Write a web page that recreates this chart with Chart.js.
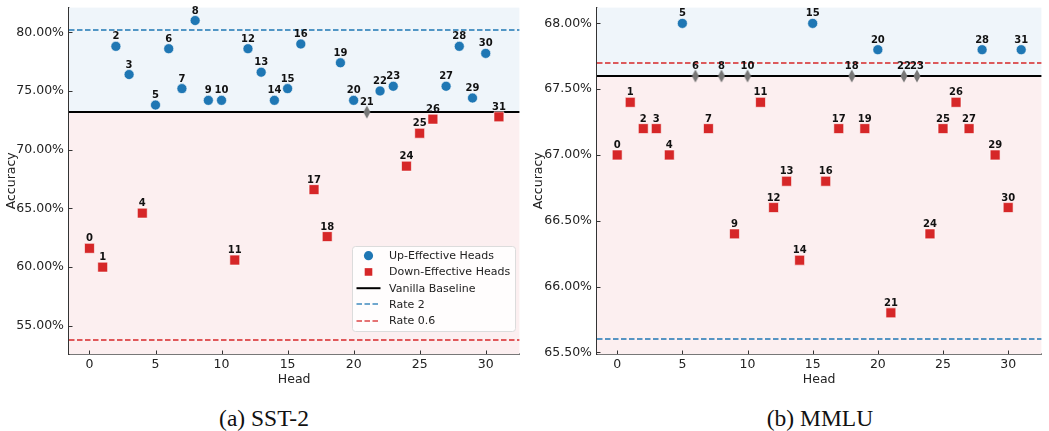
<!DOCTYPE html>
<html>
<head>
<meta charset="utf-8">
<script src="https://cdn.jsdelivr.net/npm/chart.js@4.4.0/dist/chart.umd.min.js"></script>
<style>
  body { margin: 0; background: #fff; width: 1049px; height: 431px; position: relative; overflow: hidden; }
  canvas { position: absolute; top: 0; }
  #chartA { left: 0; }
  #chartB { left: 527px; }
  .cap { position: absolute; top: 405px; font-family: "Liberation Serif", serif; font-size: 23.5px; color: #111;
         transform: translateX(-50%); white-space: nowrap; }
</style>
</head>
<body>
<canvas id="chartA" width="527" height="395"></canvas>
<canvas id="chartB" width="522" height="395"></canvas>
<div class="cap" style="left:264px">(a) SST-2</div>
<div class="cap" style="left:820px">(b) MMLU</div>
<script>
// heads 0..31
const heads = [0, 1, 2, 3, 4, 5, 6, 7, 8, 9, 10, 11, 12, 13, 14, 15,
               16, 17, 18, 19, 20, 21, 22, 23, 24, 25, 26, 27, 28, 29, 30, 31];

// accuracy (%) per head
const sstAcc = [61.6, 60.0, 78.8, 76.4, 64.6, 73.8, 78.6, 75.2, 81.0, 74.2, 74.2, 60.6, 78.6, 76.6, 74.2, 75.2,
                79.0, 66.6, 62.6, 77.4, 74.2, 73.2, 75.0, 75.4, 68.6, 71.4, 72.6, 75.4, 78.8, 74.4, 78.2, 72.8];
const mmluAcc = [67.0, 67.4, 67.2, 67.2, 67.0, 68.0, 67.6, 67.2, 67.6, 66.4, 67.6, 67.4, 66.6, 66.8, 66.2, 68.0,
                 66.8, 67.2, 67.6, 67.2, 67.8, 65.8, 67.6, 67.6, 66.4, 67.2, 67.4, 67.2, 67.8, 67.0, 66.6, 67.8];

// reference lines
const sstBaseline = 73.2, sstRate2 = 80.2, sstRate06 = 53.8;
const mmluBaseline = 67.6, mmluRate2 = 65.6, mmluRate06 = 67.7;

// ticks and axis limits
const xTicks = [0, 5, 10, 15, 20, 25, 30];
const sstYTicks = [55, 60, 65, 70, 75, 80];
const mmluYTicks = [65.5, 66.0, 66.5, 67.0, 67.5, 68.0];
const xRange = [-1.55, 32.55];
const sstRange = [52.6, 82.1];
const mmluRange = [65.487, 68.12];

const BLUE = '#1f77b4', RED = '#d62728', GRAY = '#777777';
const FONT = '"DejaVu Sans", sans-serif';
const DASH = [5.5, 2.5];

// thin diamond marker (matplotlib "d")
const diamond = document.createElement('canvas');
diamond.width = 8; diamond.height = 14;
(function () {
  const c = diamond.getContext('2d');
  c.fillStyle = GRAY;
  c.beginPath();
  c.moveTo(4, 0.5); c.lineTo(7.5, 7); c.lineTo(4, 13.5); c.lineTo(0.5, 7);
  c.closePath(); c.fill();
})();

function splitHeads(acc, base) {
  const up = [], down = [], flat = [];
  heads.forEach((h, i) => {
    const p = { x: h, y: acc[i] };
    if (acc[i] > base + 1e-9) up.push(p);
    else if (acc[i] < base - 1e-9) down.push(p);
    else flat.push(p);
  });
  return { up, down, flat };
}

function hLine(ctx, x0, x1, y, color, width, dash, alpha) {
  ctx.save();
  ctx.globalAlpha = alpha || 1;
  ctx.strokeStyle = color;
  ctx.lineWidth = width;
  ctx.setLineDash(dash || []);
  ctx.beginPath();
  ctx.moveTo(x0, y); ctx.lineTo(x1, y);
  ctx.stroke();
  ctx.restore();
}

function decorPlugin(acc, base, rate2, rate06, withLegend) {
  return {
    id: 'decor',
    beforeDatasetsDraw(chart) {
      const { ctx, chartArea: a, scales } = chart;
      const yb = scales.y.getPixelForValue(base);
      ctx.save();
      ctx.fillStyle = 'rgb(239,245,250)';
      ctx.fillRect(a.left, a.top, a.right - a.left, yb - a.top);
      ctx.fillStyle = 'rgb(252,239,240)';
      ctx.fillRect(a.left, yb, a.right - a.left, a.bottom - yb);
      ctx.restore();
      hLine(ctx, a.left, a.right, Math.round(scales.y.getPixelForValue(rate2)), BLUE, 1.5, DASH);
      hLine(ctx, a.left, a.right, Math.round(scales.y.getPixelForValue(rate06)), RED, 1.5, DASH);
      hLine(ctx, a.left, a.right, yb, '#000', 2);
    },
    afterDatasetsDraw(chart) {
      const { ctx, scales } = chart;
      ctx.save();
      ctx.font = 'bold 10px ' + FONT;
      ctx.fillStyle = '#111';
      ctx.textAlign = 'center';
      ctx.textBaseline = 'alphabetic';
      heads.forEach((h, i) => {
        const x = scales.x.getPixelForValue(h);
        const y = scales.y.getPixelForValue(acc[i]);
        ctx.fillText(String(h), x, y - 7);
      });
      ctx.restore();
    },
    afterDraw(chart) {
      const { ctx, chartArea: a, scales } = chart;
      ctx.save();
      // inward ticks
      ctx.strokeStyle = '#333';
      ctx.lineWidth = 1;
      ctx.beginPath();
      scales.x.ticks.forEach(t => {
        const x = Math.round(scales.x.getPixelForValue(t.value)) + 0.5;
        ctx.moveTo(x, a.bottom); ctx.lineTo(x, a.bottom - 3.5);
      });
      scales.y.ticks.forEach(t => {
        const y = Math.round(scales.y.getPixelForValue(t.value)) + 0.5;
        ctx.moveTo(a.left, y); ctx.lineTo(a.left + 3.5, y);
      });
      ctx.stroke();
      ctx.restore();

      if (!withLegend) return;
      const L = 352.5, T = 246.5, W = 163, H = 85;
      ctx.save();
      ctx.fillStyle = 'rgba(255,255,255,0.85)';
      ctx.strokeStyle = '#dcdcdc';
      ctx.lineWidth = 1;
      ctx.beginPath();
      ctx.roundRect(L, T, W, H, 3);
      ctx.fill(); ctx.stroke();
      const rows = [
        { label: 'Up-Effective Heads', kind: 'circle' },
        { label: 'Down-Effective Heads', kind: 'square' },
        { label: 'Vanilla Baseline', kind: 'line', color: '#000' },
        { label: 'Rate 2', kind: 'dash', color: BLUE },
        { label: 'Rate 0.6', kind: 'dash', color: RED }
      ];
      const mx = 368.5, tx = 389;
      rows.forEach((r, i) => {
        const y = 255.7 + i * 16.25;
        if (r.kind === 'circle') {
          ctx.fillStyle = BLUE;
          ctx.beginPath(); ctx.arc(mx, y, 4.6, 0, Math.PI * 2); ctx.fill();
        } else if (r.kind === 'square') {
          ctx.fillStyle = RED;
          ctx.fillRect(mx - 3.8, y - 3.8, 7.6, 7.6);
        } else if (r.kind === 'line') {
          hLine(ctx, mx - 12, mx + 12, y, r.color, 2);
        } else {
          hLine(ctx, mx - 12, mx + 12, Math.round(y), r.color, 1.5, DASH, 0.85);
        }
        ctx.fillStyle = '#222';
        ctx.font = '11px ' + FONT;
        ctx.textAlign = 'left';
        ctx.textBaseline = 'middle';
        ctx.fillText(r.label, tx, y + 0.5);
      });
      ctx.restore();
    }
  };
}

function makeChart(id, acc, base, rate2, rate06, yRange, yTicks, withLegend) {
  const g = splitHeads(acc, base);
  const yAxisWidth = id === 'chartA' ? 69 : 70;
  return new Chart(document.getElementById(id), {
    type: 'scatter',
    data: {
      datasets: [
        { label: 'Up-Effective Heads', data: g.up, backgroundColor: BLUE, borderColor: '#fff',
          borderWidth: 0.6, pointRadius: 5, pointHoverRadius: 5 },
        { label: 'Down-Effective Heads', data: g.down, backgroundColor: RED, borderColor: '#fff',
          borderWidth: 0.6, pointStyle: 'rect', pointRadius: 7, pointHoverRadius: 7 },
        { label: 'Neutral', data: g.flat, pointStyle: diamond, pointRadius: 6 }
      ]
    },
    options: {
      responsive: false,
      animation: false,
      devicePixelRatio: 1,
      layout: { padding: { top: 6, right: id === 'chartA' ? 6 : 0, left: 0, bottom: 0 } },
      plugins: { legend: { display: false }, tooltip: { enabled: false } },
      scales: {
        x: {
          type: 'linear', min: xRange[0], max: xRange[1],
          afterBuildTicks: s => { s.ticks = xTicks.map(v => ({ value: v })); },
          afterFit: s => { s.height = 395 - 354; s.paddingLeft = 0; s.paddingRight = 0; },
          grid: { display: false, drawTicks: false },
          border: { display: true, color: '#777', width: 2 },
          ticks: { font: { family: FONT, size: 12.5 }, color: '#222', padding: 3, maxRotation: 0 },
          title: { display: true, text: 'Head', font: { family: FONT, size: 12.5 }, color: '#222',
                   padding: { top: 0, bottom: 8 } }
        },
        y: {
          min: yRange[0], max: yRange[1],
          afterBuildTicks: s => { s.ticks = yTicks.map(v => ({ value: v })); },
          afterFit: s => { s.width = yAxisWidth; s.paddingTop = 0; s.paddingBottom = 0; },
          grid: { display: false, drawTicks: false },
          border: { display: true, color: '#333', width: 1.5 },
          ticks: { font: { family: FONT, size: 12.5 }, color: '#222', padding: 5,
                   callback: v => v.toFixed(2) + '%' },
          title: { display: true, text: 'Accuracy', font: { family: FONT, size: 12.5 }, color: '#222',
                   padding: { top: 4, bottom: 0 } }
        }
      }
    },
    plugins: [decorPlugin(acc, base, rate2, rate06, withLegend)]
  });
}

makeChart('chartA', sstAcc, sstBaseline, sstRate2, sstRate06, sstRange, sstYTicks, true);
makeChart('chartB', mmluAcc, mmluBaseline, mmluRate2, mmluRate06, mmluRange, mmluYTicks, false);
</script>
</body>
</html>
